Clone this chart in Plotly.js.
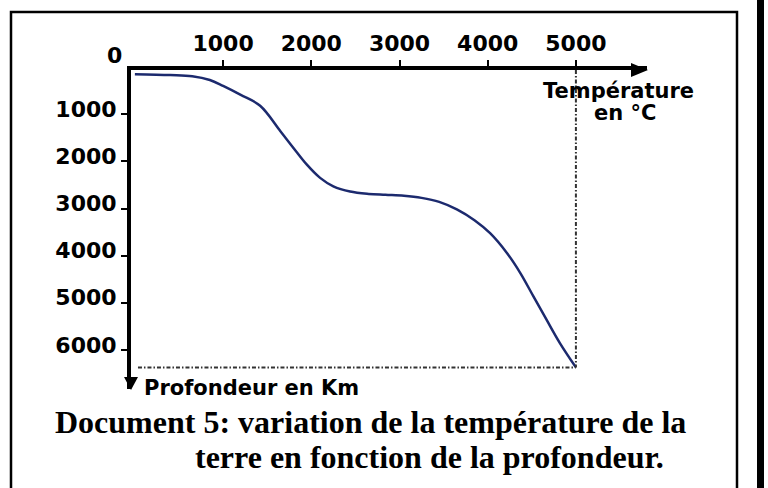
<!DOCTYPE html>
<html>
<head>
<meta charset="utf-8">
<script src="https://cdn.plot.ly/plotly-3.0.1.min.js"></script>
<style>
  html, body { margin: 0; padding: 0; background: #ffffff; }
  #chart { width: 768px; height: 488px; }
</style>
</head>
<body>
<div id="chart"></div>
<script>
// ---- data ----
const tempC   = [0, 400, 650, 850, 1000, 1200, 1420, 1650, 1800, 1950, 2100, 2250, 2440, 2650, 2840, 3050, 3250, 3450, 3650, 3850, 4030, 4220, 4370, 4520, 4670, 4820, 5000];
const depthKm = [150, 170, 195, 275, 400, 590, 820, 1360, 1720, 2070, 2350, 2530, 2640, 2690, 2710, 2730, 2775, 2860, 3020, 3250, 3530, 3950, 4370, 4870, 5370, 5860, 6371];
const xTicks = [1000, 2000, 3000, 4000, 5000];
const yTicks = [1000, 2000, 3000, 4000, 5000, 6000];
const xTickText = ['1000', '2000', '3000', '4000', '5000'];
const yTickText = ['1000', '2000', '3000', '4000', '5000', '6000'];
const originLabel = '0';
const xAxisLabel = ['Température', 'en °C'];
const yAxisLabel = 'Profondeur en Km';
const captionLines = ['Document 5: variation de la température de la', 'terre en fonction de la profondeur.'];

// ---- helpers: page pixels -> paper fractions ----
const W = 768, H = 488;
const px = x => x / W;
const py = y => 1 - y / H;

const sansBold = {family: 'DejaVu Sans', size: 22, color: '#000', weight: 'bold'};
const serifBold = {family: 'Liberation Serif, Times New Roman, serif', size: 32, color: '#000', weight: 'bold'};

const lastT = tempC[tempC.length - 1];
const lastD = depthKm[depthKm.length - 1];

const trace = {
  x: tempC, y: depthKm, type: 'scatter', mode: 'lines',
  line: {color: '#1c2a6e', width: 2.5, shape: 'spline', smoothing: 1},
  hoverinfo: 'skip'
};

const dotted = {color: '#333', width: 2, dash: '4px,2px,1.5px,2px'};

const layout = {
  width: W, height: H,
  margin: {l: 0, r: 0, t: 0, b: 0},
  paper_bgcolor: '#fff', plot_bgcolor: 'rgba(0,0,0,0)',
  showlegend: false,
  xaxis: {
    domain: [px(131), px(647)], range: [-44, 5806], side: 'top',
    showline: true, linecolor: '#000', linewidth: 4,
    showgrid: false, zeroline: false,
    ticks: 'outside', ticklen: 6, tickwidth: 2, tickcolor: '#000',
    tickvals: xTicks, ticktext: xTickText, tickfont: sansBold
  },
  yaxis: {
    domain: [py(389), py(70)], range: [6829, 62],
    showline: true, linecolor: '#000', linewidth: 4,
    showgrid: false, zeroline: false,
    ticks: 'outside', ticklen: 6, tickwidth: 2, tickcolor: '#000',
    tickvals: yTicks, ticktext: yTickText, tickfont: sansBold,
    ticklabelshift: 5
  },
  shapes: [
    // outer frame
    {type: 'rect', xref: 'paper', yref: 'paper', x0: px(11), x1: px(737), y0: py(12), y1: py(495),
     line: {color: '#000', width: 2.5}, fillcolor: 'rgba(0,0,0,0)'},
    // thick bar on the right
    {type: 'rect', xref: 'paper', yref: 'paper', x0: px(757), x1: px(764), y0: py(0), y1: py(488),
     line: {width: 0}, fillcolor: '#000'},
    // reference dotted lines at the end of the curve
    {type: 'line', xref: 'x', yref: 'y', x0: lastT, x1: lastT, y0: 62, y1: lastD, line: dotted},
    {type: 'line', xref: 'x', yref: 'y', x0: 35, x1: lastT, y0: lastD, y1: lastD, line: dotted},
    // arrow heads
    {type: 'path', xref: 'paper', yref: 'paper',
     path: `M ${px(631)},${py(63)} L ${px(648)},${py(70)} L ${px(631)},${py(77)} Z`,
     fillcolor: '#000', line: {width: 0}},
    {type: 'path', xref: 'paper', yref: 'paper',
     path: `M ${px(124)},${py(377)} L ${px(131)},${py(390)} L ${px(138)},${py(377)} Z`,
     fillcolor: '#000', line: {width: 0}}
  ],
  annotations: [
    {text: originLabel, xref: 'paper', yref: 'paper', x: px(114.5), y: py(55), xanchor: 'center', yanchor: 'middle', showarrow: false, font: sansBold},
    {text: xAxisLabel[0], xref: 'paper', yref: 'paper', x: px(618), y: py(91), xanchor: 'center', yanchor: 'middle', showarrow: false, font: Object.assign({}, sansBold, {size: 21})},
    {text: xAxisLabel[1], xref: 'paper', yref: 'paper', x: px(624.5), y: py(113), xanchor: 'center', yanchor: 'middle', showarrow: false, font: Object.assign({}, sansBold, {size: 21})},
    {text: yAxisLabel, xref: 'paper', yref: 'paper', x: px(142), y: py(388), xanchor: 'left', yanchor: 'middle', showarrow: false, font: Object.assign({}, sansBold, {size: 21})},
    {text: captionLines[0], xref: 'paper', yref: 'paper', x: px(370), y: py(422), xanchor: 'center', yanchor: 'middle', showarrow: false, font: serifBold},
    {text: captionLines[1], xref: 'paper', yref: 'paper', x: px(429), y: py(457), xanchor: 'center', yanchor: 'middle', showarrow: false, font: serifBold}
  ]
};

Plotly.newPlot('chart', [trace], layout, {staticPlot: true, displayModeBar: false});
</script>
</body>
</html>
